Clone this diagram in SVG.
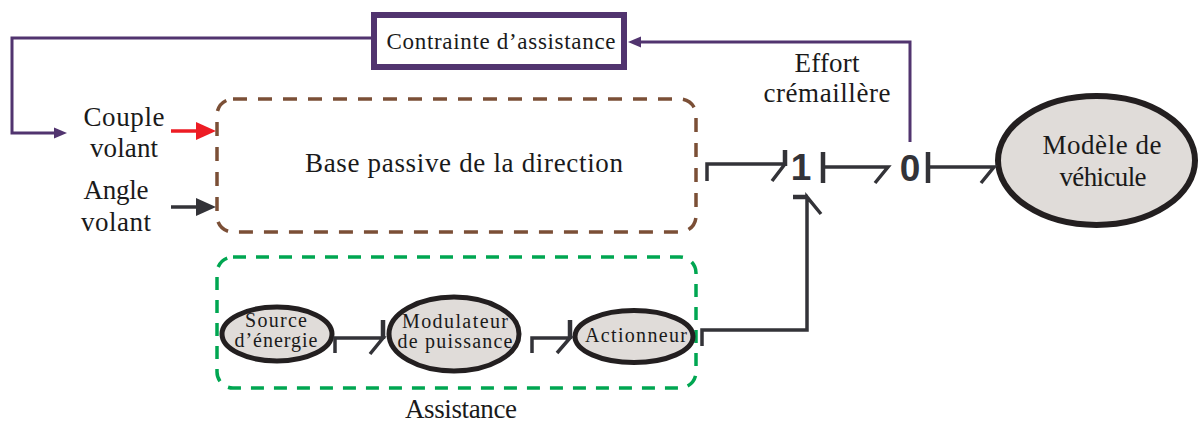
<svg xmlns="http://www.w3.org/2000/svg" width="1202" height="423" viewBox="0 0 1202 423">
<style>
.t{font-family:'Liberation Serif','Times New Roman','DejaVu Serif',serif;fill:#1a1a1a;text-anchor:middle}
.m{font-size:27px}
.s{font-size:20px}
.c{font-size:23px}
.d{font-family:'Liberation Sans',Arial,sans-serif;font-weight:bold;font-size:37px;fill:#333338;text-anchor:middle}
.el{fill:#e0dcd9;stroke:#231f20}
.bond{fill:none;stroke:#333338;stroke-width:3.5}
.bar{fill:none;stroke:#333338;stroke-width:4.5}
.pl{fill:none;stroke:#51346f;stroke-width:3}
</style>
<rect width="1202" height="423" fill="#ffffff"/>
<g id="base">
<rect x="217" y="99" width="479" height="133" rx="16" fill="none" stroke="#7b4f36" stroke-width="3.5" stroke-dasharray="14 11"/>
<text class="t m" x="464" y="172" textLength="318">Base passive de la direction</text>
</g>
<g id="assistance">
<rect x="217" y="257" width="479" height="131" rx="16" fill="none" stroke="#00a651" stroke-width="3.5" stroke-dasharray="13 10"/>
<text class="t m" x="461" y="418" textLength="112">Assistance</text>
</g>
<g id="contrainte">
<rect x="374" y="15" width="250" height="52" fill="#ffffff" stroke="#51346f" stroke-width="6"/>
<text class="t c" x="501" y="49" textLength="229">Contrainte d’assistance</text>
</g>
<g id="source">
<ellipse class="el" cx="277" cy="334" rx="55" ry="27" stroke-width="5"/>
<text class="t s" x="276" y="327" textLength="62">Source</text>
<text class="t s" x="276" y="347" textLength="83">d’énergie</text>
</g>
<g id="modulateur">
<ellipse class="el" cx="454" cy="334" rx="65" ry="37" stroke-width="5"/>
<text class="t s" x="455" y="328" textLength="106">Modulateur</text>
<text class="t s" x="455" y="348" textLength="115">de puissance</text>
</g>
<g id="actionneur">
<ellipse class="el" cx="634" cy="336.5" rx="59" ry="26" stroke-width="5"/>
<text class="t s" x="636" y="342" textLength="102">Actionneur</text>
</g>
<g id="vehicule">
<ellipse class="el" cx="1096.5" cy="160.5" rx="98.5" ry="64.5" stroke-width="6"/>
<text class="t m" x="1102" y="154" textLength="119">Modèle de</text>
<text class="t m" x="1103" y="186" textLength="87">véhicule</text>
</g>
<g id="junction1">
<text class="d" x="801" y="180">1</text>
</g>
<g id="junction0">
<text class="d" x="910" y="181">0</text>
</g>
<g id="labels">
<text class="t m" x="124" y="126" textLength="81">Couple</text>
<text class="t m" x="124" y="157" textLength="68">volant</text>
<text class="t m" x="116" y="199" textLength="65">Angle</text>
<text class="t m" x="116" y="231" textLength="70">volant</text>
<text class="t m" x="827" y="72" textLength="65">Effort</text>
<text class="t m" x="827" y="102" textLength="127">crémaillère</text>
</g>
<g id="connectors">
<path class="pl" d="M371,38 H12 V133 H56"/>
<polygon points="67,133 54,127.5 54,138.5" fill="#51346f"/>
<path class="pl" d="M910,142 V42 H640"/>
<polygon points="628,42 641,36.5 641,47.5" fill="#51346f"/>
<path d="M171,131 H198" stroke="#ed1c24" stroke-width="3.5" fill="none"/>
<polygon points="216,131 196,122 196,140" fill="#ed1c24"/>
<path d="M171,207 H198" stroke="#333338" stroke-width="3.5" fill="none"/>
<polygon points="216,207 196,198 196,216" fill="#333338"/>
<path class="bond" d="M707,181 V164 H785 M785,164 L772,181"/>
<path class="bar" d="M785,150 V166"/>
<path class="bar" d="M823,152 V183"/>
<path class="bond" d="M823,167 H888 L875,183"/>
<path class="bar" d="M928,152 V183"/>
<path class="bond" d="M928,167 H994 L981,183"/>
<path class="bond" d="M702,346 V330 H807 V197 L821,214"/>
<path class="bar" d="M793,197 H808"/>
<path class="bond" d="M335,353 V338 H383 L370,354"/>
<path class="bar" d="M383,320 V339"/>
<path class="bond" d="M532,353 V338 H570 L557,353"/>
<path class="bar" d="M570,320 V339"/>
</g>
</svg>
